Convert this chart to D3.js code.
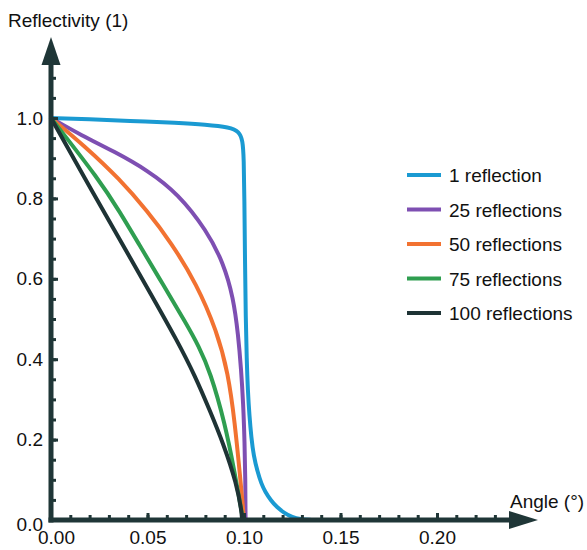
<!DOCTYPE html>
<html><head><meta charset="utf-8">
<script src="https://cdn.jsdelivr.net/npm/d3@7"></script>
<style>body{margin:0;background:#fff}svg{display:block}text{font-family:"Liberation Sans",Arial,sans-serif}</style>
</head><body>
<svg id="c" width="587" height="550"></svg>
<script>
const seriesNames = ["1 reflection","25 reflections","50 reflections","75 reflections","100 reflections"];
const seriesColors = ["#1a9ad2","#7e4fb2","#f27231","#2f9e50","#1e3335"];
const r1 = [[0,1.0],[0.02,0.997],[0.04,0.993],[0.0658,0.988],[0.08,0.984],[0.0927,0.977],[0.0975,0.966],[0.0993,0.945],[0.0999,0.9],[0.1002,0.8],[0.1005,0.65],[0.1009,0.5],[0.1014,0.4],[0.102,0.32],[0.1028,0.26],[0.1038,0.205],[0.105,0.16],[0.107,0.12],[0.109,0.09],[0.111,0.07],[0.114,0.048],[0.117,0.032],[0.121,0.017],[0.125,0.007],[0.129,0.002],[0.135,0.0]];
const r25 = [[0,1.0],[0.0157,0.957],[0.033,0.916],[0.05,0.87],[0.0658,0.812],[0.0807,0.72],[0.0893,0.64],[0.0945,0.553],[0.097,0.46],[0.0985,0.375],[0.0996,0.29],[0.1003,0.195],[0.1007,0.1],[0.1008,0.0]];
const r50 = [[0,1.0],[0.0175,0.93],[0.0356,0.848],[0.05,0.768],[0.062,0.692],[0.0755,0.587],[0.0859,0.47],[0.0918,0.366],[0.0953,0.24],[0.0979,0.112],[0.0995,0.03],[0.1,0.0]];
const r75 = [[0,1.0],[0.0252,0.845],[0.0358,0.765],[0.0451,0.69],[0.058,0.586],[0.0703,0.487],[0.0765,0.433],[0.0824,0.37],[0.0902,0.24],[0.0953,0.115],[0.0988,0.02],[0.0995,0.0]];
const r100 = [[0,1.0],[0.0175,0.85],[0.0357,0.697],[0.052,0.56],[0.0655,0.445],[0.0745,0.36],[0.0825,0.27],[0.0893,0.19],[0.0962,0.09],[0.0988,0.02],[0.099,0.0]];
const seriesData = [r1,r25,r50,r75,r100];
const xMajorTicks = [0,0.05,0.10,0.15,0.20];
const xMinorTicks = d3.range(1,24).map(i=>i/100);
const yMajorTicks = [0,0.2,0.4,0.6,0.8,1.0];
const yMinorTicks = d3.range(1,23).map(i=>i*0.05);

const svg = d3.select("#c");
const axisColor = "#1f3637";
const FONT = "Liberation Sans, Arial, sans-serif";
const x = d3.scaleLinear().domain([0,0.1]).range([51,244]);
const y = d3.scaleLinear().domain([0,1]).range([520,118]);

// lines
const line = d3.line().x(d=>x(d[0])).y(d=>y(d[1])).curve(d3.curveBasis);
seriesData.forEach((data,i)=>{
  svg.append("path").attr("d",line(data)).attr("fill","none")
    .attr("stroke",seriesColors[i]).attr("stroke-width",4).attr("stroke-linejoin","round").attr("stroke-linecap","round");
});

// y axis
const gy = svg.append("g").attr("transform",`translate(${x(0)},0)`);
gy.call(d3.axisLeft(y).tickValues(yMinorTicks).tickSize(-5).tickFormat(""));
gy.select(".domain").remove();
const gy2 = svg.append("g").attr("transform",`translate(${x(0)},0)`);
gy2.call(d3.axisLeft(y).tickValues(yMajorTicks).tickSize(-7).tickPadding(8).tickFormat(d3.format(".1f")));
gy2.select(".domain").remove();
gy2.selectAll(".tick text").filter(d=>d===0).attr("dy","0.55em");
// x axis
const gx = svg.append("g").attr("transform",`translate(0,${y(0)})`);
gx.call(d3.axisBottom(x).tickValues(xMinorTicks).tickSize(-5).tickFormat(""));
gx.select(".domain").remove();
const gx2 = svg.append("g").attr("transform",`translate(0,${y(0)})`);
gx2.call(d3.axisBottom(x).tickValues(xMajorTicks).tickSize(-7).tickPadding(11).tickFormat(d3.format(".2f")));
gx2.select(".domain").remove();
gx2.selectAll(".tick text").filter(d=>d===0).attr("dx","5");
[gy,gy2,gx,gx2].forEach(g=>{g.selectAll("line").attr("stroke",axisColor).attr("stroke-width",3);
  g.selectAll("text").attr("font-size",19).attr("fill","#111").attr("font-family",FONT);
  g.attr("font-family",FONT);});

// axis lines with arrows
svg.append("line").attr("x1",x(0)).attr("x2",x(0)).attr("y1",y(0)+2.5).attr("y2",62).attr("stroke",axisColor).attr("stroke-width",5);
svg.append("path").attr("d",`M${x(0)},37 L${x(0)+9.5},65 L${x(0)-9.5},65 Z`).attr("fill",axisColor);
svg.append("line").attr("x1",x(0)-2.5).attr("x2",512).attr("y1",y(0)).attr("y2",y(0)).attr("stroke",axisColor).attr("stroke-width",5);
svg.append("path").attr("d",`M538,${y(0)} L509,${y(0)-9} L509,${y(0)+9} Z`).attr("fill",axisColor);

// axis titles
svg.append("text").attr("x",8).attr("y",27).attr("font-size",19).attr("fill","#111").text("Reflectivity (1)");
svg.append("text").attr("x",510).attr("y",508).attr("font-size",19).attr("fill","#111").text("Angle (°)");

// legend
const lg = svg.append("g");
seriesNames.forEach((n,i)=>{
  const yy = 175 + i*34.5;
  lg.append("line").attr("x1",407).attr("x2",441).attr("y1",yy).attr("y2",yy).attr("stroke",seriesColors[i]).attr("stroke-width",4);
  lg.append("text").attr("x",449).attr("y",yy+7).attr("font-size",19).attr("fill","#111").text(n);
});
</script>
</body></html>
